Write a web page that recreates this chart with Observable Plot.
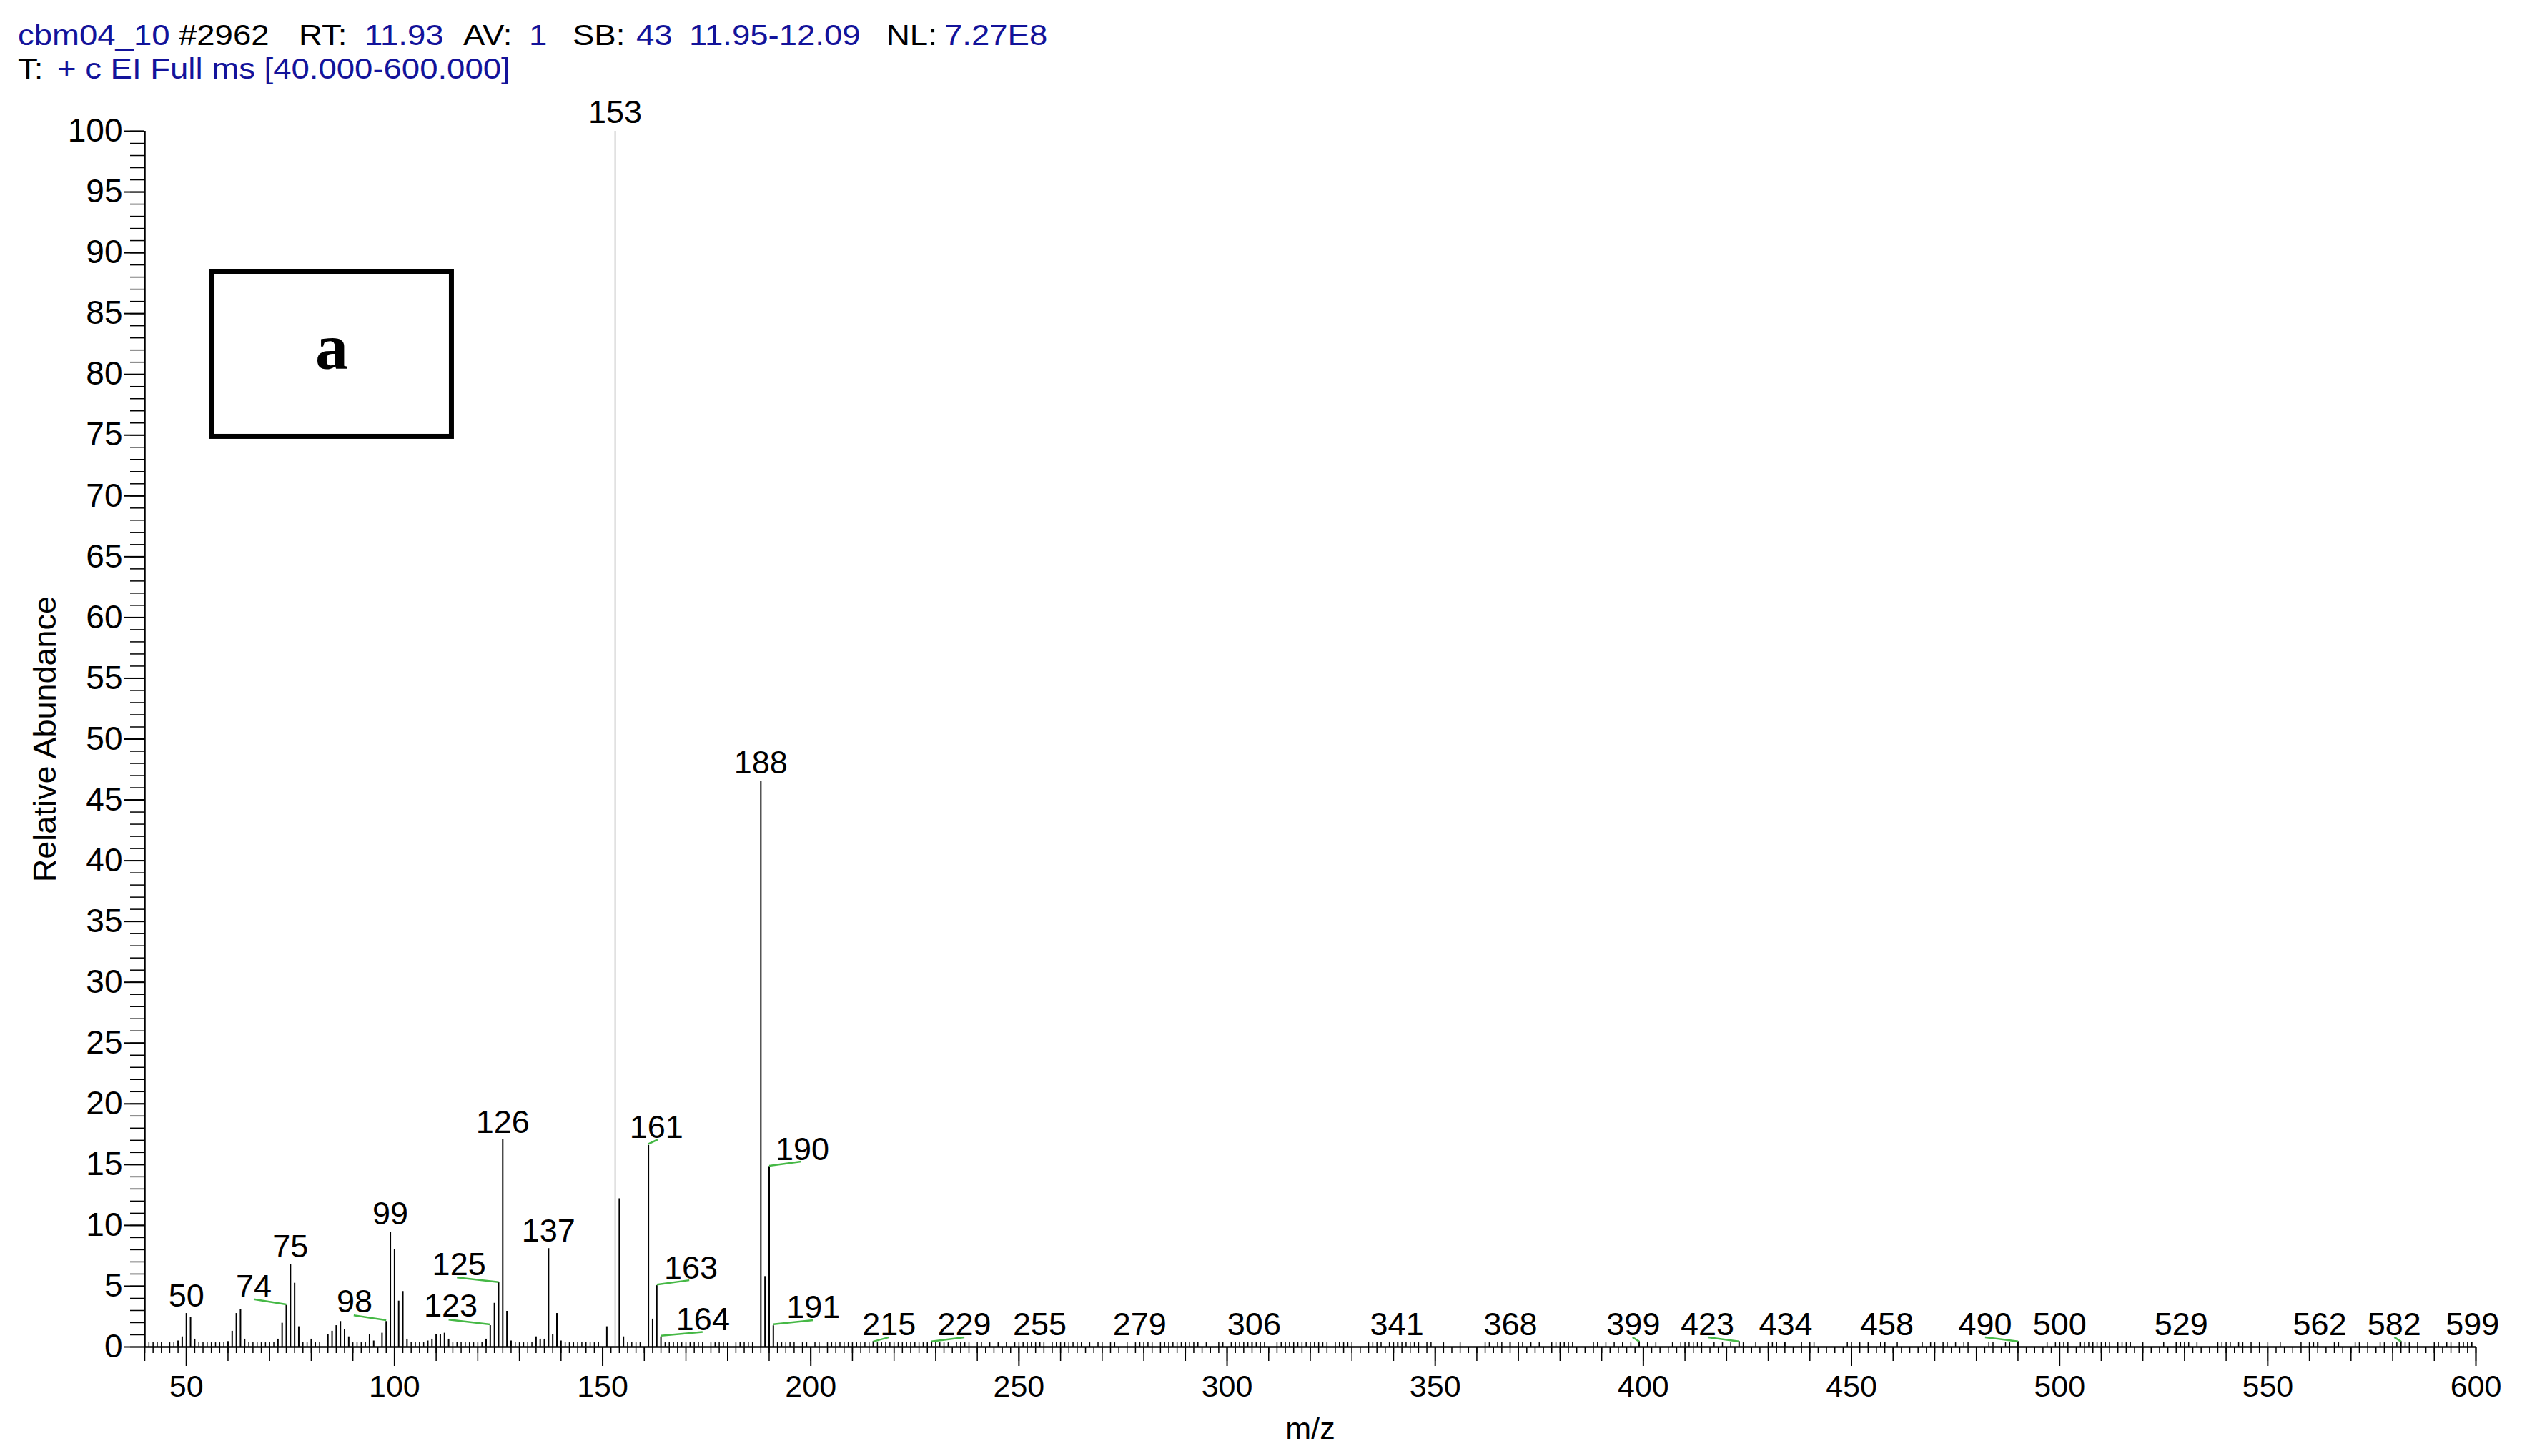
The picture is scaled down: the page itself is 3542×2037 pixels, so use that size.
<!DOCTYPE html>
<html>
<head>
<meta charset="utf-8">
<script src="https://cdn.jsdelivr.net/npm/d3@7"></script>
<script src="https://cdn.jsdelivr.net/npm/@observablehq/plot@0.6"></script>
<style>
html, body { margin: 0; padding: 0; background: #fff; }
#wrap { width: 3542px; height: 2037px; position: relative; overflow: hidden; background: #fff; }
#title { position: relative; width: 3542px; height: 125px; font-family: Arial, "Liberation Sans", sans-serif; font-size: 41px; }
#title span { position: absolute; white-space: pre; line-height: 1; transform: scaleX(1.11); transform-origin: 0 0; }
svg { display: block; }
</style>
</head>
<body>
<div id="wrap"><div id="title"></div><div id="chart"></div></div>
<script>
// ---------- header text ----------
const headerLine1 = ["cbm04_10", "#2962", "RT:", "11.93", "AV:", "1", "SB:", "43", "11.95-12.09", "NL:", "7.27E8"];
const headerLine1Blue = [true, false, false, true, false, true, false, true, true, false, true];
const headerLine2 = ["T:", "+ c EI Full ms [40.000-600.000]"];
const headerLine2Blue = [false, true];

// ---------- spectrum data (m/z, relative abundance %) ----------
const majorMz = [48, 49, 50, 51, 52, 60, 61, 62, 63, 64, 72, 73, 74, 75, 76, 77, 80, 84, 85, 86, 87, 88, 89,
  94, 95, 97, 98, 99, 100, 101, 102, 103, 108, 109, 110, 111, 112, 113, 122, 123, 124, 125, 126, 127, 128,
  134, 135, 136, 137, 138, 139, 140, 151, 153, 154, 155, 161, 162, 163, 164, 188, 189, 190, 191];
const majorAbund = [0.5, 0.84, 2.76, 2.47, 0.65, 0.45, 1.3, 2.76, 3.1, 0.65, 0.65, 1.96, 3.43, 6.8, 5.25, 1.67, 0.65, 1.04, 1.3, 1.76, 2.1, 1.47, 0.84,
  1.04, 0.5, 1.14, 2.1, 9.46, 8.0, 3.78, 4.57, 0.65, 0.5, 0.65, 1.0, 1.04, 1.14, 0.65, 0.65, 1.76, 3.6, 5.3, 17.05, 2.94, 0.5,
  0.84, 0.65, 0.65, 8.1, 1.0, 2.76, 0.5, 1.67, 100, 12.2, 0.84, 16.6, 2.3, 5.05, 0.84, 46.5, 5.8, 14.85, 1.75];

const smallLabeledMz = [215, 229, 255, 279, 306, 341, 368, 399, 423, 434, 458, 490, 500, 529, 562, 582, 599];
const smallLabeledAbund = [0.45, 0.45, 0.4, 0.4, 0.4, 0.4, 0.4, 0.45, 0.45, 0.4, 0.4, 0.45, 0.4, 0.4, 0.4, 0.45, 0.4];

const noiseLevel = 0.35;
const noiseMz = [41, 42, 43, 44, 46, 47, 53, 54, 55, 56, 57, 58, 59, 65, 66, 67, 68, 69, 70, 71, 78, 79, 81, 82, 90, 91, 92, 93,
  104, 105, 106, 107, 114, 115, 116, 117, 118, 119, 120, 121, 129, 130, 131, 132, 133, 141, 142, 143, 144, 145, 146, 147, 148, 149,
  156, 157, 158, 159, 165, 166, 167, 168, 169, 170, 171, 172, 173, 174, 176, 177, 178, 179, 180, 182, 183, 184, 185, 186,
  192, 193, 194, 195, 196, 198, 199,
  201, 202, 204, 205, 206, 207, 208, 209, 210, 211, 212, 213, 214, 216, 217, 218, 219, 220, 221, 222, 223, 224, 225, 226, 227, 228,
  230, 231, 232, 233, 235, 236, 237, 238, 240, 241, 243, 245, 247, 249, 250, 251, 252, 253, 254, 256, 258, 259, 260, 261, 262, 263,
  264, 265, 267, 269, 270, 272, 273, 276, 278, 280, 281, 282, 284, 285, 286, 287, 288, 289, 290, 291, 292, 293, 295, 298, 299,
  301, 302, 303, 304, 305, 307, 308, 309, 312, 313, 314, 315, 316, 317, 318, 319, 320, 321, 322, 323, 324, 326, 327, 328, 329, 330,
  334, 335, 336, 337, 339, 340, 342, 343, 344, 345, 346, 348, 349, 352, 356, 362, 363, 365, 366, 370, 371, 373, 375, 378, 379, 380,
  381, 382, 383, 388, 389, 391, 393, 395, 397,
  401, 403, 407, 409, 410, 411, 412, 413, 414, 417, 419, 421, 424, 427, 430, 431, 432, 438, 440, 441, 449, 450, 452, 454, 457, 461,
  467, 469, 470, 472, 473, 475, 477, 478, 483, 484, 487, 488, 497,
  499, 501, 502, 505, 506, 507, 508, 509, 510, 511, 512, 514, 515, 516, 517, 520, 525, 528, 530, 531, 533, 538, 539, 540, 541, 543,
  544, 546, 548, 550, 553, 558, 560, 561, 566, 567, 571, 572, 574, 577, 578, 580, 581, 583, 584, 586, 590, 591, 593, 594, 596, 597, 598];

// ---------- peak annotations ----------
const labelText = ["50", "74", "75", "98", "99", "123", "125", "126", "137", "153", "161", "163", "164", "188", "190", "191",
  "215", "229", "255", "279", "306", "341", "368", "399", "423", "434", "458", "490", "500", "529", "562", "582", "599"];
const labelMz = [50, 66.2, 75, 90.4, 99, 113.5, 115.5, 126, 137, 153, 162.9, 171.2, 174.1, 188, 198.0, 200.6,
  218.8, 236.9, 255, 279, 306.5, 340.8, 368.1, 397.6, 415.4, 434.2, 458.5, 482.1, 500, 529.2, 562.5, 580.4, 599.2];
const labelAbund = [3.35, 4.1, 7.4, 2.85, 10.1, 2.5, 5.9, 17.6, 8.65, 100.7, 17.2, 5.62, 1.37, 47.15, 15.4, 2.4,
  0.95, 0.95, 0.95, 0.95, 0.95, 0.95, 0.95, 0.95, 0.95, 0.95, 0.95, 0.95, 0.95, 0.95, 0.95, 0.95, 0.95];

const leaderFromMz = [66.2, 90.2, 113.0, 115.0, 163.2, 170.8, 174.0, 197.7, 200.6, 218.8, 236.9, 397.4, 415.5, 482.1, 580.4];
const leaderFromAbund = [3.92, 2.6, 2.25, 5.72, 17.06, 5.49, 1.23, 15.25, 2.2, 0.8, 0.8, 0.8, 0.8, 0.8, 0.8];
const leaderToMz = [74, 98, 123, 125, 161, 163, 164, 190, 191, 215, 229, 399, 423, 490, 582];
const leaderToAbund = [3.5, 2.2, 1.85, 5.33, 16.7, 5.13, 0.92, 14.9, 1.86, 0.45, 0.45, 0.45, 0.45, 0.45, 0.45];

// ---------- axes ----------
const yTickValues = [0, 5, 10, 15, 20, 25, 30, 35, 40, 45, 50, 55, 60, 65, 70, 75, 80, 85, 90, 95, 100];
const xTickValues = [50, 100, 150, 200, 250, 300, 350, 400, 450, 500, 550, 600];
const xDomain = [40, 600];
const yDomain = [0, 100];

// ---------- panel tag ----------
const panelTag = "a";
const panelBox = {x1: 56.23, x2: 113.75, y1: 74.87, y2: 88.39};
const panelTagPos = {x: 84.9, y: 82.2};

// ---------- build header ----------
const blue = "#13139a";
const line1Left = [25, 250, 418, 510, 648, 740, 801, 890, 964, 1240, 1321];
const line2Left = [25, 80];
const title = document.getElementById("title");
function addSpan(txt, left, top, isBlue) {
  const s = document.createElement("span");
  s.textContent = txt;
  s.style.left = left + "px";
  s.style.top = top + "px";
  s.style.color = isBlue ? blue : "#000";
  title.appendChild(s);
}
headerLine1.forEach((t, i) => addSpan(t, line1Left[i], 29, headerLine1Blue[i]));
headerLine2.forEach((t, i) => addSpan(t, line2Left[i], 76, headerLine2Blue[i]));

// ---------- build tables ----------
const bars = majorMz.map((m, i) => ({mz: m, ab: majorAbund[i]}))
  .concat(smallLabeledMz.map((m, i) => ({mz: m, ab: smallLabeledAbund[i]})));
const noise = noiseMz.map(m => ({mz: m, ab: noiseLevel}));
const labels = labelText.map((t, i) => ({t, mz: labelMz[i], ab: labelAbund[i]}));
const leaders = leaderFromMz.map((m, i) => ({x1: m, y1: leaderFromAbund[i], x2: leaderToMz[i], y2: leaderToAbund[i]}));
const basePeak = bars.filter(d => d.ab === 100);
const otherBars = bars.filter(d => d.ab !== 100);

const fontStack = "Arial, 'Liberation Sans', sans-serif";

const chart = Plot.plot({
  width: 3542,
  height: 1912,
  marginTop: 58,
  marginBottom: 153,
  marginLeft: 202,
  marginRight: 79,
  x: {domain: xDomain, label: null},
  y: {domain: yDomain, label: null},
  style: {fontFamily: fontStack, fontSize: "43px", color: "#000", background: "#fff", overflow: "visible"},
  marks: [
    Plot.axisY({ticks: d3.range(0, 101, 1), tickSize: 20, tickFormat: () => "", label: null, strokeWidth: 1.5}),
    Plot.axisY({ticks: yTickValues, tickSize: 28, tickPadding: 3, label: null, strokeWidth: 2, fontSize: 46}),
    Plot.axisX({ticks: d3.range(40, 601, 2), tickSize: 9, tickFormat: () => "", label: null, strokeWidth: 1.5}),
    Plot.axisX({ticks: d3.range(40, 601, 10), tickSize: 20, tickFormat: () => "", label: null, strokeWidth: 1.5}),
    Plot.axisX({ticks: xTickValues, tickSize: 27, tickPadding: 12, label: null, strokeWidth: 2, fontSize: 43}),
    Plot.ruleX([xDomain[0]], {y1: yDomain[0], y2: yDomain[1], strokeWidth: 2.5}),
    Plot.ruleY([0], {strokeWidth: 2.5}),
    Plot.ruleX(noise, {x: "mz", y1: 0, y2: "ab", stroke: "#000", strokeWidth: 1.5}),
    Plot.ruleX(otherBars, {x: "mz", y1: 0, y2: "ab", stroke: "#000", strokeWidth: 2}),
    Plot.ruleX(basePeak, {x: "mz", y1: 0, y2: "ab", stroke: "#555", strokeWidth: 1.3}),
    Plot.link(leaders, {x1: "x1", y1: "y1", x2: "x2", y2: "y2", stroke: "#45b845", strokeWidth: 2.5}),
    Plot.text(labels, {x: "mz", y: "ab", text: "t", lineAnchor: "bottom", fontSize: 45, fill: "#000"}),
    Plot.rect([panelBox], {x1: "x1", x2: "x2", y1: "y1", y2: "y2", fill: "none", stroke: "#000", strokeWidth: 7}),
    Plot.text([panelTagPos], {x: "x", y: "y", text: () => panelTag, fontFamily: "'Liberation Serif', 'Times New Roman', serif", fontWeight: "bold", fontSize: 92, fill: "#000"}),
    Plot.text(["Relative Abundance"], {frameAnchor: "left", textAnchor: "middle", lineAnchor: "middle", dx: -139, rotate: -90, fontSize: 45, fill: "#000"}),
    Plot.text(["m/z"], {frameAnchor: "bottom", lineAnchor: "middle", dy: 115, fontSize: 43, fill: "#000"})
  ]
});
document.getElementById("chart").appendChild(chart);
</script>
</body>
</html>
